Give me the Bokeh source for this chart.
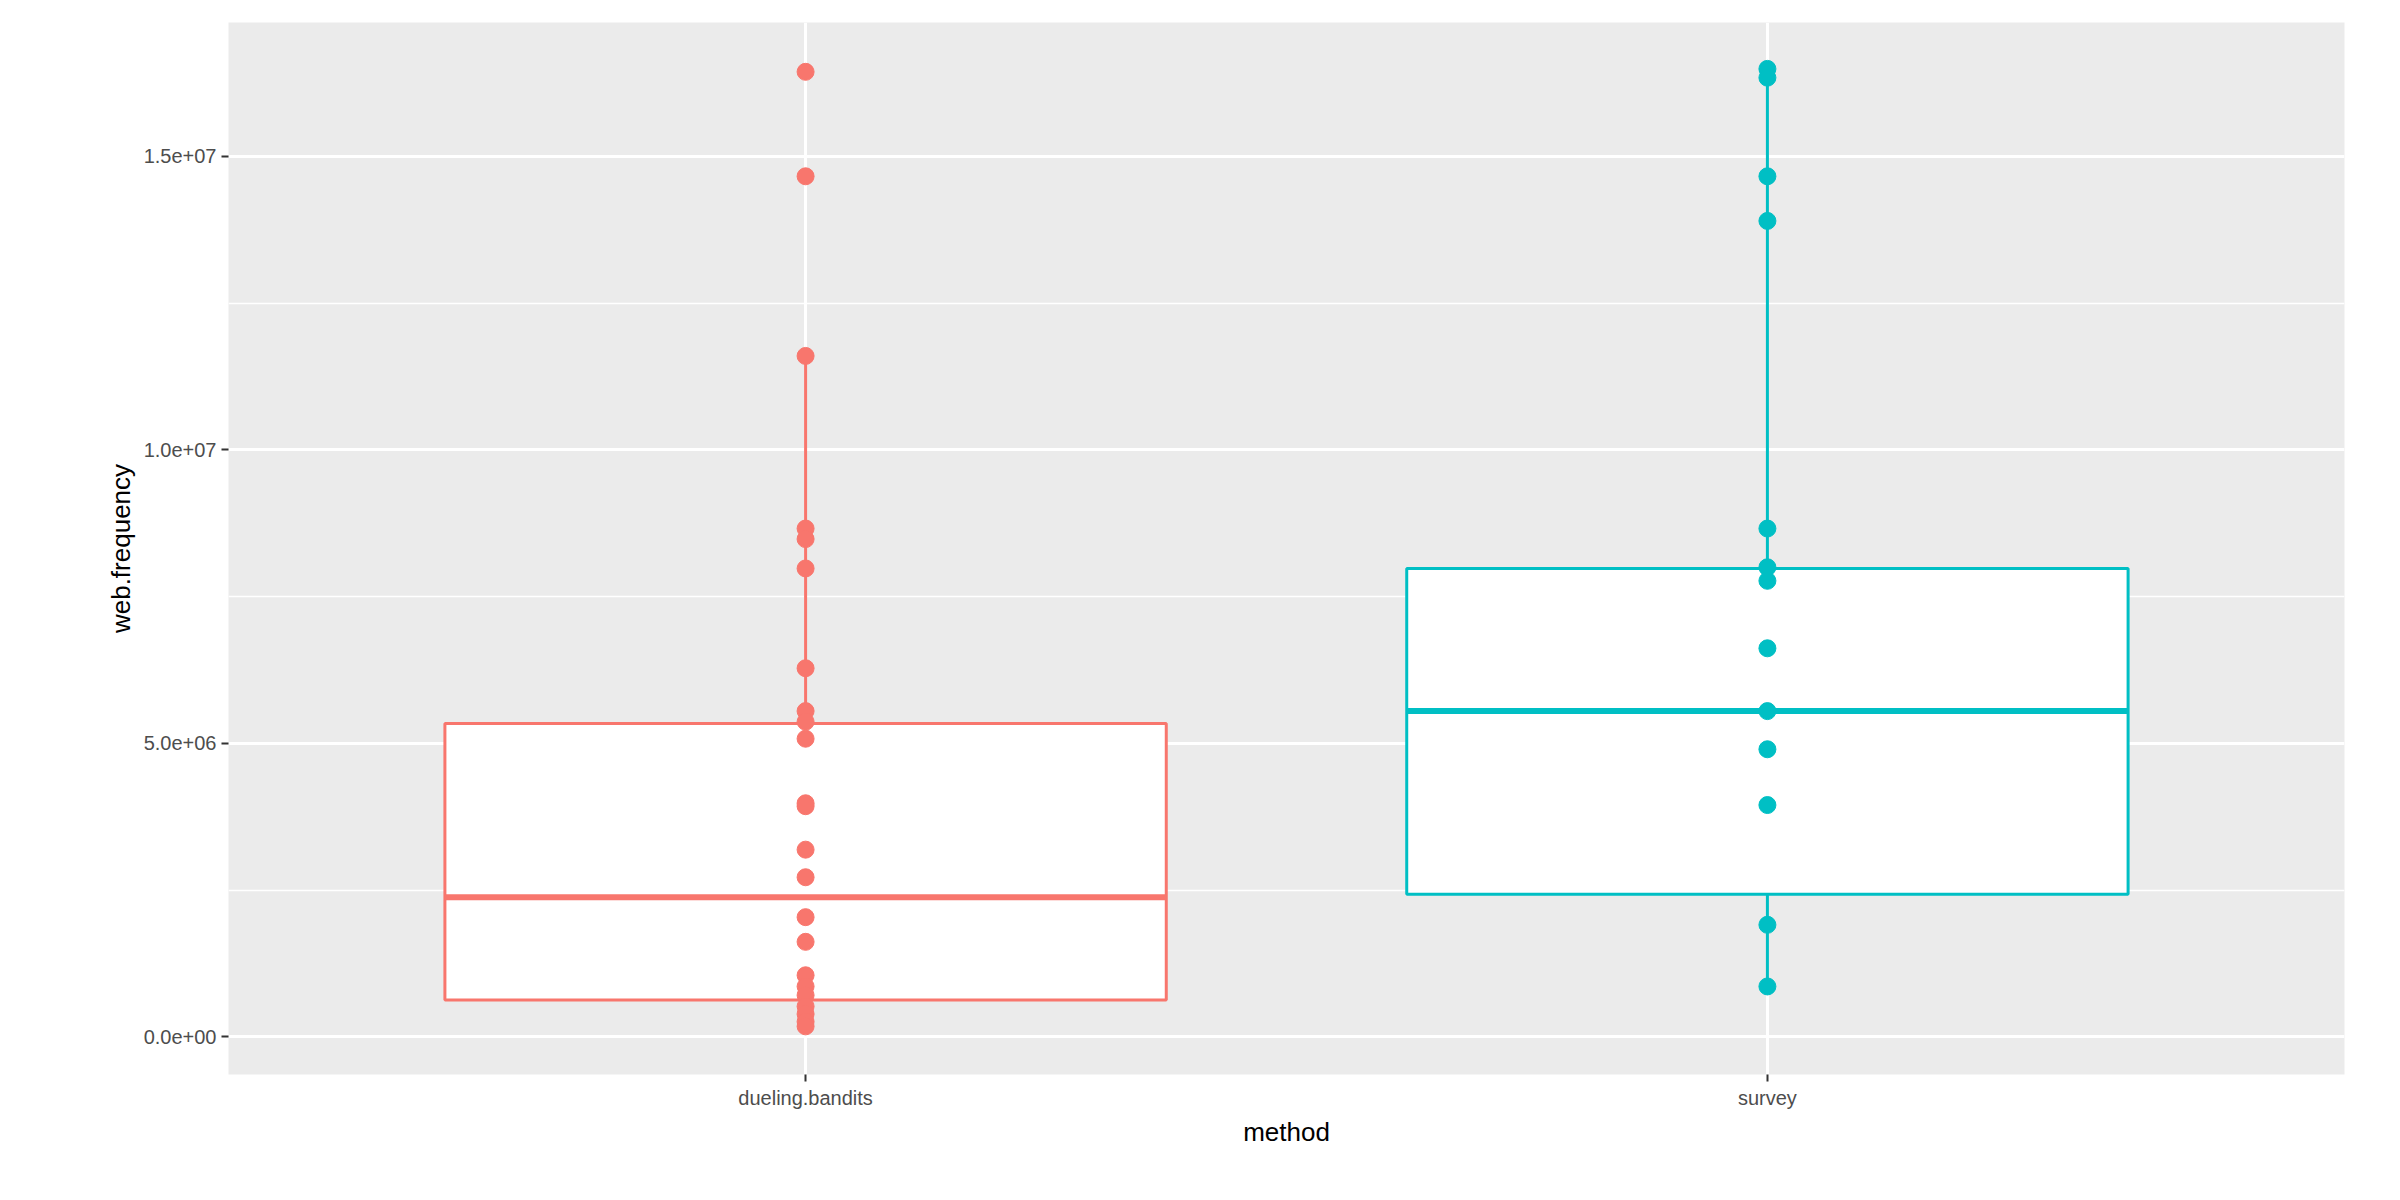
from bokeh.plotting import figure
from bokeh.models import Range1d, FixedTicker
from bokeh.embed import file_html
from bokeh.resources import INLINE

categories = ["dueling.bandits", "survey"]
colors = ["#F8766D", "#00BFC4"]
dueling_values = [1.644e7, 1.466e7, 1.16e7, 8.66e6, 8.48e6, 7.98e6, 6.28e6, 5.55e6, 5.37e6, 5.08e6,
                  3.98e6, 3.93e6, 3.19e6, 2.72e6, 2.04e6, 1.62e6, 1.05e6, 0.86e6, 0.71e6, 0.52e6,
                  0.39e6, 0.26e6, 0.18e6]
survey_values = [1.649e7, 1.634e7, 1.466e7, 1.39e7, 8.66e6, 8.0e6, 7.77e6, 6.62e6, 5.55e6, 4.9e6,
                 3.95e6, 1.91e6, 0.86e6]
# box stats: lower whisker, q1, median, q3, upper whisker
dueling_box = [0.18e6, 0.63e6, 2.38e6, 5.34e6, 1.16e7]
survey_box = [0.86e6, 2.43e6, 5.55e6, 7.98e6, 1.649e7]
y_ticks = [0, 5e6, 1e7, 1.5e7]
y_tick_labels = ["0.0e+00", "5.0e+06", "1.0e+07", "1.5e+07"]

p = figure(width=2384, height=1184, output_backend="svg", toolbar_location=None,
           x_range=Range1d(0.4, 2.6), y_range=Range1d(-0.64e6, 1.728e7),
           min_border_left=228, min_border_right=40, min_border_top=22, min_border_bottom=110)
p.background_fill_color = "#EBEBEB"
p.outline_line_color = None
p.border_fill_color = "white"

for i, (vals, box, c) in enumerate([(dueling_values, dueling_box, colors[0]),
                                     (survey_values, survey_box, colors[1])]):
    x = i + 1
    lo, q1, med, q3, hi = box
    p.segment(x0=[x, x], y0=[lo, q3], x1=[x, x], y1=[q1, hi], line_color=c, line_width=3)
    p.quad(left=[x - 0.375], right=[x + 0.375], bottom=[q1], top=[q3],
           fill_color="white", line_color=c, line_width=3)
    p.segment(x0=[x - 0.375], y0=[med], x1=[x + 0.375], y1=[med], line_color=c, line_width=6)
    p.scatter(x=[x] * len(vals), y=vals, size=17, fill_color=c, line_color=c)

p.xaxis.ticker = FixedTicker(ticks=[1, 2])
p.xaxis.major_label_overrides = {1: categories[0], 2: categories[1]}
p.yaxis.ticker = FixedTicker(ticks=y_ticks, minor_ticks=[2.5e6, 7.5e6, 1.25e7])
p.yaxis.major_label_overrides = {t: l for t, l in zip(y_ticks, y_tick_labels)}
p.xaxis.axis_label = "method"
p.yaxis.axis_label = "web.frequency"
for ax in (p.xaxis, p.yaxis):
    ax.axis_line_color = None
    ax.major_tick_line_color = "#333333"
    ax.major_tick_line_width = 2
    ax.major_tick_in = 0
    ax.major_tick_out = 7
    ax.minor_tick_line_color = None
    ax.major_label_text_font = "Liberation Sans"
    ax.major_label_text_font_size = "20px"
    ax.major_label_text_color = "#4D4D4D"
    ax.axis_label_text_font = "Liberation Sans"
    ax.axis_label_text_font_size = "26px"
    ax.axis_label_text_font_style = "normal"
    ax.axis_label_text_color = "black"
p.xgrid.grid_line_color = "white"
p.xgrid.grid_line_width = 3
p.ygrid.grid_line_color = "white"
p.ygrid.grid_line_width = 3
p.ygrid.minor_grid_line_color = "white"
p.ygrid.minor_grid_line_width = 1.5

open("out.html", "w").write(file_html(p, INLINE))
